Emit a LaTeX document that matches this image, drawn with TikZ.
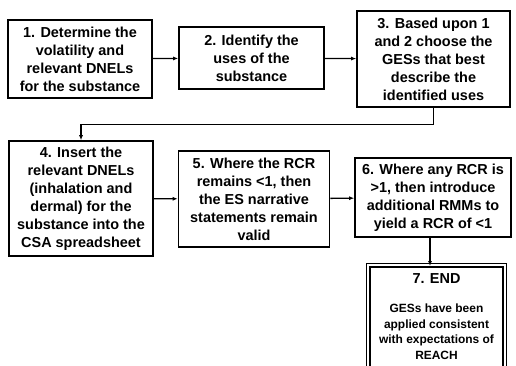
\documentclass[tikz,border=0pt]{standalone}
\usepackage{fontspec}
\setmainfont{Liberation Sans}
\usetikzlibrary{arrows.meta}
\begin{document}
\begin{tikzpicture}[x=1bp, y=-1bp,
  stepbox/.style={draw, line width=1.6bp, align=center, inner sep=2bp, font=\bfseries\fontsize{14.5}{18}\selectfont},
  link/.style={line width=1.3bp, -{Latex[length=5bp,width=4bp]}}]
\useasboundingbox (0,0) rectangle (516,365);
\clip (0,0) rectangle (516,365);
\node[stepbox, minimum width=144bp, minimum height=78bp] (S1) at (80,59) {1. Determine the\\volatility and\\relevant DNELs\\for the substance};
\node[stepbox, minimum width=145bp, minimum height=62bp] (S2) at (251.5,58) {2. Identify the\\uses of the\\substance};
\node[stepbox, minimum width=153bp, minimum height=96bp] (S3) at (433.5,59) {3. Based upon 1\\and 2 choose the\\GESs that best\\describe the\\identified uses};
\node[stepbox, minimum width=144bp, minimum height=115bp] (S4) at (81,198.5) {4. Insert the\\relevant DNELs\\(inhalation and\\dermal) for the\\substance into the\\CSA spreadsheet};
\node[stepbox, minimum width=151bp, minimum height=96bp] (S5) at (254,199) {5. Where the RCR\\remains <1, then\\the ES narrative\\statements remain\\valid};
\node[stepbox, minimum width=156bp, minimum height=79bp] (S6) at (433,197.5) {6. Where any RCR is\\>1, then introduce\\additional RMMs to\\yield a RCR of <1};
\node[stepbox, anchor=north, minimum width=133bp, inner ysep=7bp, text depth=40bp, font=\bfseries\fontsize{12}{15.5}\selectfont] (S7) at (436.5,266) {{\fontsize{14.5}{15.5}\selectfont 7. END}\\[13.5bp]GESs have been\\applied consistent\\with expectations of\\REACH};
\draw[line width=0.7bp] (S7.north west) ++(-3,-3) rectangle ([xshift=3bp,yshift=-3bp]S7.south east);
\draw[link] (S1) -- (S2);
\draw[link] (S2) -- (S3);
\draw[link] (S3.south) -- ++(0,17) -| (S4.north);
\draw[link] (S4) -- (S5);
\draw[link] (S5) -- (S6);
\draw[link] ([xshift=-3bp]S6.south) -- ([xshift=-3bp]S6.south |- S7.north);
\end{tikzpicture}
\end{document}
